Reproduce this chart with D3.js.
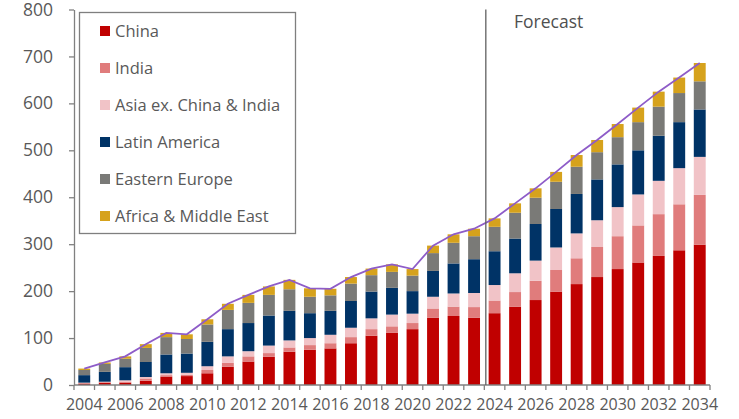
<!DOCTYPE html>
<html>
<head>
<meta charset="utf-8">
<script src="https://cdn.jsdelivr.net/npm/d3@7/dist/d3.min.js"></script>
<style>
  html, body { margin: 0; padding: 0; background: #ffffff; }
  svg { display: block; font-family: "Open Sans", "Segoe UI", sans-serif; }
</style>
</head>
<body>
<svg id="chart" width="739" height="419"></svg>
<script>
// Yearly categories (2024 onward is the forecast)
const years = ["2004","2005","2006","2007","2008","2009","2010","2011","2012","2013",
               "2014","2015","2016","2017","2018","2019","2020","2021","2022","2023",
               "2024","2025","2026","2027","2028","2029","2030","2031","2032","2033","2034"];
const forecastStart = "2024";

// Stacked series values
const china = [3,5,5,9,18,19,25,39,50,60,71,75,78,89,105,111,119,143,147,143,153,167,181,199,215,230,247,261,275,287,299];
const india = [1,1,2,5,3,3,7,8,11,8,9,10,11,13,14,14,13,20,20,23,27,31,41,46,55,64,70,79,89,98,106];
const asiaExChinaIndia = [1,1,3,3,4,4,8,14,11,16,15,15,18,20,23,25,20,25,28,30,33,40,43,48,53,57,62,66,71,77,81];
const latinAmerica = [16,21,28,32,40,41,52,58,60,64,63,53,51,57,57,57,48,55,64,72,72,74,78,82,84,87,91,94,96,98,101];
const easternEurope = [11,17,18,30,37,31,37,41,43,44,46,35,33,37,35,34,33,38,44,49,52,55,56,58,58,58,58,60,62,62,60];
const africaMiddleEast = [3,3,5,8,9,10,11,13,17,18,20,18,14,14,14,16,14,16,18,16,18,20,20,21,25,26,28,31,32,33,39];

const seriesNames = ["China","India","Asia ex. China & India","Latin America","Eastern Europe","Africa & Middle East"];
const seriesValues = [china, india, asiaExChinaIndia, latinAmerica, easternEurope, africaMiddleEast];
const seriesColors = ["#c00000","#e07c7c","#f1c3c7","#003366","#7a7a77","#d6a21c"];

const yTicks = [0,100,200,300,400,500,600,700,800];
const xLabelYears = years.filter((d, i) => i % 2 === 0);

// Build a table the stack generator can read
const table = years.map((y, i) => {
  const row = { year: y };
  seriesNames.forEach((n, k) => { row[n] = seriesValues[k][i]; });
  return row;
});
const totals = years.map((y, i) => seriesValues.reduce((s, arr) => s + arr[i], 0));

const svg = d3.select("#chart");
const axisColor = "#808080";
const textColor = "#595959";

const x = d3.scaleBand().domain(years).range([74, 710]).paddingInner(0.42).paddingOuter(0.21);
const y = d3.scaleLinear().domain([0, 800]).range([385, 9.5]);

const stack = d3.stack().keys(seriesNames);
const layers = stack(table);

// Bars
svg.append("g").selectAll("g")
  .data(layers)
  .join("g")
  .attr("fill", (d, i) => seriesColors[i])
  .selectAll("rect")
  .data(d => d)
  .join("rect")
  .attr("x", d => x(d.data.year))
  .attr("width", x.bandwidth())
  .attr("y", d => y(d[1]))
  .attr("height", d => y(d[0]) - y(d[1]));

// Total line across bar tops
const line = d3.line()
  .x((d, i) => x(years[i]) + x.bandwidth() / 2)
  .y(d => y(d));
svg.append("path")
  .datum(totals)
  .attr("d", line)
  .attr("fill", "none")
  .attr("stroke", "#8e5cc8")
  .attr("stroke-width", 1.8);

// Y axis
const yAxis = d3.axisLeft(y).tickValues(yTicks).tickSize(5).tickPadding(16).tickSizeOuter(0);
const gy = svg.append("g").attr("transform", "translate(74,0)").call(yAxis);
gy.select(".domain").attr("stroke", axisColor).attr("stroke-width", 1.3);
gy.selectAll(".tick line").attr("stroke", axisColor).attr("stroke-width", 1.3);
gy.selectAll(".tick text").attr("fill", textColor).attr("font-size", 17.5)
  .attr("font-family", "'Open Sans', sans-serif");

// X axis: ticks on band boundaries, labels every other year
const step = x.step();
const boundaries = years.map(yr => x(yr) - step * x.paddingInner() / 2).concat([x(years[years.length - 1]) + x.bandwidth() + step * x.paddingInner() / 2]);
const gx = svg.append("g");
gx.append("line")
  .attr("x1", 74).attr("x2", boundaries[boundaries.length - 1])
  .attr("y1", 385).attr("y2", 385)
  .attr("stroke", axisColor).attr("stroke-width", 1.3);
gx.selectAll("line.tick")
  .data(boundaries)
  .join("line")
  .attr("class", "tick")
  .attr("x1", d => d).attr("x2", d => d)
  .attr("y1", 385).attr("y2", 390)
  .attr("stroke", axisColor).attr("stroke-width", 1.3);
gx.selectAll("text")
  .data(xLabelYears)
  .join("text")
  .attr("x", d => x(d) + x.bandwidth() / 2)
  .attr("y", 410)
  .attr("text-anchor", "middle")
  .attr("fill", textColor)
  .attr("font-size", 16)
  .text(d => d);

// Forecast divider
const fx = x(forecastStart) - step * x.paddingInner() / 2 + 1.5;
svg.append("line")
  .attr("x1", fx).attr("x2", fx)
  .attr("y1", y(800)).attr("y2", 385)
  .attr("stroke", "#606060").attr("stroke-width", 1.3);
svg.append("text")
  .attr("x", 514).attr("y", 28)
  .attr("fill", "#505050")
  .attr("font-size", 17.5)
  .text("Forecast");

// Legend
const legend = svg.append("g");
legend.append("rect")
  .attr("x", 79.5).attr("y", 12.5).attr("width", 216).attr("height", 221)
  .attr("fill", "#ffffff").attr("stroke", "#7f7f7f").attr("stroke-width", 1.3);
const items = legend.selectAll("g.item")
  .data(seriesNames)
  .join("g")
  .attr("class", "item")
  .attr("transform", (d, i) => `translate(100, ${31 + i * 37})`);
items.append("rect")
  .attr("x", 0).attr("y", -5).attr("width", 10).attr("height", 10)
  .attr("fill", (d, i) => seriesColors[i]);
items.append("text")
  .attr("x", 15).attr("y", 6)
  .attr("fill", textColor)
  .attr("font-size", 16.5)
  .text(d => d);
</script>
</body>
</html>
